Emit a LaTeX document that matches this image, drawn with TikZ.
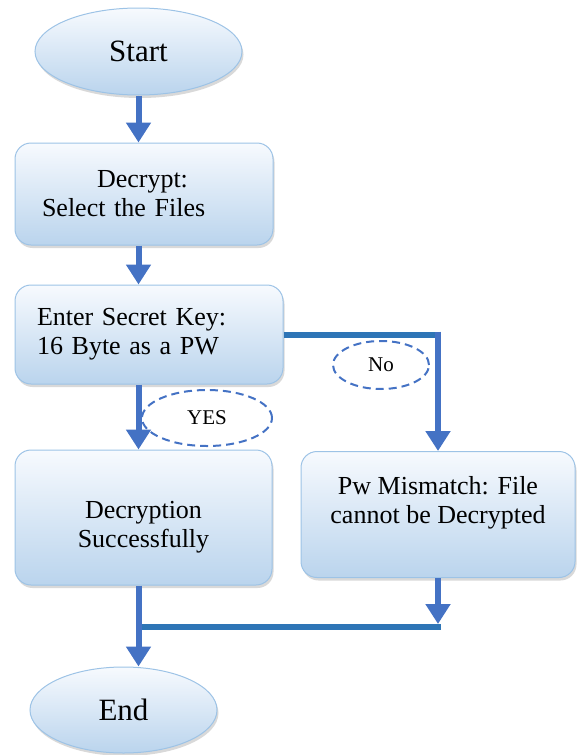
\documentclass[tikz,border=0pt]{standalone}
\usepackage{fontspec}
\setmainfont{Liberation Serif}
\usetikzlibrary{arrows.meta}
\usetikzlibrary{shapes.geometric}
\usetikzlibrary{shadows}
\tikzset{>={Triangle[length=20pt,width=24pt]}}
\definecolor{boxedge}{RGB}{157,195,230}
\definecolor{boxtop}{RGB}{247,250,254}
\definecolor{boxbottom}{RGB}{186,212,237}
\definecolor{arrowblue}{RGB}{68,114,196}
\definecolor{linkblue}{RGB}{46,117,182}
\tikzstyle{stepshade}=[draw=boxedge,line width=1pt,top color=boxtop,bottom color=boxbottom,drop shadow={shadow xshift=1.5pt,shadow yshift=-3pt,opacity=0.3}]
\tikzstyle{procbox}=[stepshade,rectangle,rounded corners=16pt,font=\fontsize{26}{29}\selectfont]
\tikzstyle{terminal}=[stepshade,ellipse,inner sep=0pt,font=\fontsize{31}{34}\selectfont]
\tikzstyle{flowline}=[draw=arrowblue,line width=6pt]
\tikzstyle{joinline}=[draw=linkblue,line width=6pt]
\tikzstyle{answer}=[draw=arrowblue,line width=2pt,dash pattern=on 8pt off 5pt,ellipse,inner sep=0pt,font=\fontsize{21}{24}\selectfont]

\begin{document}
\begin{tikzpicture}[x=1pt,y=-1pt]
  \useasboundingbox (0,0) rectangle (576,755);

  \node[terminal,minimum width=207pt,minimum height=87pt] (start) at (138.5,51.5) {Start};
  \node[procbox,align=left,text width=204pt,inner xsep=27pt,minimum height=102pt] (decrypt) at (144,194)
    {\hspace*{55pt}Decrypt:\\Select the Files};
  \node[procbox,align=left,text width=224pt,inner xsep=22pt,minimum height=99pt] (enter) at (149,334.5)
    {Enter Secret Key:\\16 Byte as a PW};
  \node[procbox,align=center,minimum width=257pt,minimum height=135pt] (success) at (143.5,517.5)
    {\rule{0pt}{36pt}Decryption\\Successfully};
  \node[procbox,align=center,minimum width=274pt,minimum height=126pt] (mismatch) at (438,514.5)
    {Pw Mismatch: File\\cannot be Decrypted\\\mbox{}};
  \node[terminal,minimum width=187pt,minimum height=86pt] (end) at (123.5,710) {End};

  \node[answer,minimum width=130pt,minimum height=56pt] (yes) at (207,418) {YES};
  \node[answer,minimum width=96pt,minimum height=48pt] (no) at (381,365) {No};

  % main column
  \draw[flowline,->] (start.south) -- (start.south |- decrypt.north);
  \draw[flowline,->] (decrypt.south -| start.south) -- (enter.north -| start.south);
  \draw[flowline,->] (enter.south -| start.south) -- (success.north -| start.south);

  % no branch
  \coordinate (nobend) at (mismatch.north |- enter.east);
  \draw[joinline] (enter.east) -- ([xshift=3pt]nobend);
  \draw[flowline,->] ([yshift=3pt]nobend) -- (mismatch.north);

  % both branches meet
  \coordinate (merge) at (start.south |- 0,627);
  \draw[flowline,->,shorten >=3pt] (mismatch.south) -- (mismatch.south |- merge);
  \draw[joinline] ([xshift=3pt]mismatch.south |- merge) -- ([xshift=-3pt]merge);
  \draw[flowline,->] (success.south -| merge) -- (end.north -| merge);
\end{tikzpicture}
\end{document}
